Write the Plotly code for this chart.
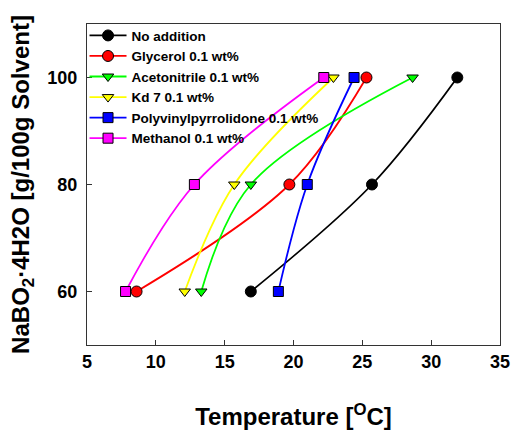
import plotly.graph_objects as go

solubility = [60, 80, 100]

series_names = [
    "No addition",
    "Glycerol 0.1 wt%",
    "Acetonitrile 0.1 wt%",
    "Kd 7 0.1 wt%",
    "Polyvinylpyrrolidone 0.1 wt%",
    "Methanol 0.1 wt%",
]

temp_no_addition = [16.9, 25.7, 31.9]
temp_glycerol = [8.6, 19.7, 25.3]
temp_acetonitrile = [13.3, 16.9, 28.65]
temp_kd7 = [12.1, 15.7, 22.9]
temp_pvp = [18.9, 21.0, 24.4]
temp_methanol = [7.8, 12.8, 22.2]

x_ticks = [5, 10, 15, 20, 25, 30, 35]
y_ticks = [60, 80, 100]

series_temps = [temp_no_addition, temp_glycerol, temp_acetonitrile,
                temp_kd7, temp_pvp, temp_methanol]
colors = ["#000000", "#ff0000", "#00ff00", "#ffff00", "#0000ff", "#ff00ff"]
symbols = ["circle", "circle", "triangle-down", "triangle-down", "square", "square"]
sizes = [11, 11, 10, 10, 10, 10]

fig = go.Figure()
for name, temps, c, s, sz in zip(series_names, series_temps, colors, symbols, sizes):
    fig.add_trace(go.Scatter(
        x=temps, y=solubility, name=name, mode="lines+markers",
        line=dict(color=c, width=1.8, shape="spline", smoothing=1.0),
        marker=dict(symbol=s, size=sz, color=c, line=dict(color="#000000", width=1)),
    ))

FAM = "Liberation Sans, Arial, sans-serif"
axis_font = dict(family=FAM, size=18, color="#000000")
title_font = dict(family=FAM, size=24, color="#000000")

fig.update_layout(
    width=511, height=430,
    margin=dict(l=87, r=11, t=24, b=85, autoexpand=False),
    paper_bgcolor="white", plot_bgcolor="white",
    font=dict(family=FAM, color="#000000"),
    showlegend=True,
    legend=dict(
        x=-0.006, y=1.012, xanchor="left", yanchor="top",
        bgcolor="rgba(0,0,0,0)", borderwidth=0, itemwidth=37,
        font=dict(family=FAM, size=13.5, color="#000000", weight="bold"),
        tracegroupgap=0,
    ),
    xaxis=dict(
        range=[5, 35], tickvals=x_ticks, ticktext=[f"<b>{v}</b>" for v in x_ticks],
        ticks="inside", ticklen=5, tickcolor="#333333", automargin=False,
        showline=True, linecolor="#333333", linewidth=1, mirror=True,
        showgrid=False, zeroline=False, tickfont=axis_font,
        title=dict(text="<b>Temperature [<sup>O</sup>C]</b>", font=title_font, standoff=37),
    ),
    yaxis=dict(
        range=[50, 110], tickvals=y_ticks, ticktext=[f"<b>{v}</b>" for v in y_ticks],
        ticks="inside", ticklen=5, tickcolor="#333333", ticklabelstandoff=5, automargin=False,
        showline=True, linecolor="#333333", linewidth=1, mirror=True,
        showgrid=False, zeroline=False, tickfont=axis_font,
        title=dict(text="<b>NaBO<sub>2</sub>·4H2O [g/100g Solvent]</b>", font=title_font, standoff=10),
    ),
)

fig.write_html(
    "out.html",
    config={"displayModeBar": False},
    post_script="document.body.style.margin='0px';document.body.style.overflow='hidden';",
)
